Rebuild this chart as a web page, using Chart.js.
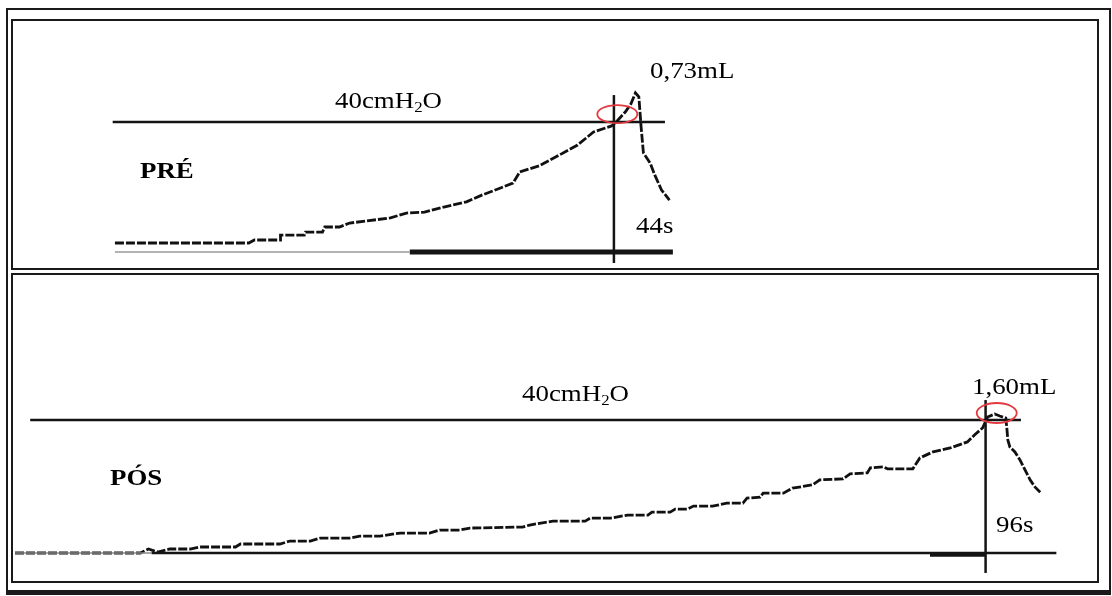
<!DOCTYPE html>
<html>
<head>
<meta charset="utf-8">
<script src="https://cdn.jsdelivr.net/npm/chart.js@4/dist/chart.umd.min.js"></script>
<style>
    html, body { margin: 0; padding: 0; background: #fff; }
    body { position: relative; width: 1112px; height: 596px; overflow: hidden; }
    .frame { position: absolute; box-sizing: border-box; border: 2px solid #1a1a1a; }
    canvas { position: absolute; }
    .lbl {
        position: absolute; font-family: "Liberation Serif", "Times New Roman", serif;
        font-size: 24px; line-height: 24px; color: #000; white-space: nowrap;
        transform: scaleX(1.12); transform-origin: left top;
    }
    .lbl b { font-weight: bold; }
    .lbl sub { font-size: 15px; vertical-align: -4px; line-height: 0; }
</style>
</head>
<body>
<div class="frame" style="left:6px;top:8px;width:1105px;height:587px;border-bottom-width:5px;"></div>
<div class="frame" style="left:11px;top:19px;width:1088px;height:251px;"></div>
<div class="frame" style="left:11px;top:273px;width:1088px;height:310px;"></div>

<canvas id="preChart" width="1084" height="246" style="left:13px;top:21px;"></canvas>
<canvas id="posChart" width="1084" height="305" style="left:13px;top:275px;"></canvas>

<div class="lbl" style="left:335px;top:88px;">40cmH<sub>2</sub>O</div>
<div class="lbl" style="left:650px;top:58px;">0,73mL</div>
<div class="lbl" style="left:140px;top:158px;"><b>PRÉ</b></div>
<div class="lbl" style="left:636px;top:213px;">44s</div>

<div class="lbl" style="left:522px;top:381px;">40cmH<sub>2</sub>O</div>
<div class="lbl" style="left:972px;top:374px;">1,60mL</div>
<div class="lbl" style="left:110px;top:465px;"><b>PÓS</b></div>
<div class="lbl" style="left:996px;top:512px;">96s</div>

<script>
// PRÉ trace: time (s) and pressure (cmH2O)
const preTime = [0, 5.4, 11.8, 12.3, 14.6, 14.6, 16.7, 16.8, 18.3, 18.5, 19.8, 20.7, 22.2, 24.3, 25.7, 27.3,
    29.0, 31.0, 32.4, 34.0, 35.1, 35.7, 37.4, 39.2, 40.8, 42.2, 43.8, 44.2, 45.0, 45.5, 45.9, 46.2,
    46.4, 46.6, 47.2, 47.6, 48.2, 48.9];
const prePressure = [0, 0, 0, 1.0, 1.0, 2.6, 2.6, 3.6, 3.6, 5.3, 5.3, 6.6, 7.3, 8.3, 9.9, 10.2,
    11.9, 13.6, 15.9, 18.2, 19.8, 23.5, 25.5, 29.1, 32.4, 36.7, 38.7, 40.0, 43.3, 46.0, 49.6, 48.3,
    38.3, 29.8, 26.4, 22.5, 17.5, 14.2];

// PÓS trace
const posTime = [0, 12.4, 13.2, 14.1, 15.3, 17.3, 18.3, 21.8, 22.3, 26.2, 27.2, 29.2, 30.2, 33.1, 34.1, 36.1,
    38.1, 41.0, 42.0, 44.0, 45.0, 50.2, 50.9, 53.2, 56.4, 56.9, 58.9, 60.6, 62.6, 63.0, 64.8, 65.3,
    66.5, 67.1, 69.0, 70.4, 72.0, 72.4, 73.7, 74.0, 76.0, 76.9, 78.9, 79.6, 81.9, 82.6, 84.3, 84.6,
    85.9, 86.3, 88.8, 89.5, 90.8, 92.5, 94.2, 94.9, 95.7, 96.2, 96.9, 97.4, 98.0, 98.1, 98.2, 98.4,
    98.9, 99.4, 99.9, 100.4, 100.9, 101.4];
const posPressure = [0, 0, 1.2, 0.3, 1.2, 1.2, 1.8, 1.8, 2.7, 2.7, 3.6, 3.6, 4.5, 4.5, 5.1, 5.1,
    6.0, 6.0, 6.9, 6.9, 7.5, 7.8, 8.4, 9.6, 9.6, 10.5, 10.5, 11.4, 11.4, 12.3, 12.3, 13.2,
    13.2, 14.1, 14.1, 15.0, 15.0, 16.5, 16.8, 18.0, 18.0, 19.5, 20.5, 22.0, 22.3, 23.8, 24.1, 25.6,
    25.9, 25.3, 25.3, 28.6, 30.4, 31.6, 33.4, 35.5, 37.6, 40.9, 41.8, 41.2, 40.6, 37.6, 34.0, 31.9,
    30.4, 28.0, 25.0, 22.0, 19.8, 18.3];

// reference lines (40 cmH2O), time markers, base bars, red rings
const preLimit = 40, preLimitSpan = [-0.2, 48.5];
const preMark = 44, preMarkSpan = [-6.6, 48.9];
const preBase = -3, preBaseSpan = [0, 26.0, 49.2];
const preRing = [44.3, 42.6];

const posLimit = 40, posLimitSpan = [1.5, 99.5];
const posMark = 96, posMarkSpan = [-6.0, 46.0];
const posBase = 0, posBaseSpan = [0, 13.5, 103.0];
const posHeavy = [90.5, 96.0];
const posRing = [97.1, 42.1];

function pts(xs, ys) {
    return xs.map((x, i) => ({ x: x, y: ys[i] }));
}

function seg(x0, x1, y) {
    return [{ x: x0, y: y }, { x: x1, y: y }];
}

function line(data, color, width, dash) {
    return {
        data: data,
        borderColor: color,
        borderWidth: width,
        borderDash: dash || [],
        pointRadius: 0,
        tension: 0,
        fill: false
    };
}

// draws the red ellipse round the crossing point
const ringPlugin = {
    id: 'ring',
    afterDatasetsDraw(chart, args, opts) {
        const ctx = chart.ctx;
        const cx = chart.scales.x.getPixelForValue(opts.at[0]);
        const cy = chart.scales.y.getPixelForValue(opts.at[1]);
        ctx.save();
        ctx.strokeStyle = '#e3393f';
        ctx.lineWidth = 1.8;
        ctx.beginPath();
        ctx.ellipse(cx, cy, opts.rx, opts.ry, 0, 0, Math.PI * 2);
        ctx.stroke();
        ctx.restore();
    }
};

function makePanel(id, datasets, xr, yr, ring) {
    return new Chart(document.getElementById(id), {
        type: 'line',
        data: { datasets: datasets },
        options: {
            responsive: false,
            animation: false,
            devicePixelRatio: 1,
            layout: { padding: 0 },
            scales: {
                x: { type: 'linear', display: false, min: xr[0], max: xr[1] },
                y: { type: 'linear', display: false, min: yr[0], max: yr[1] }
            },
            plugins: {
                legend: { display: false },
                tooltip: { enabled: false },
                ring: ring
            }
        },
        plugins: [ringPlugin]
    });
}

makePanel('preChart', [
    line(seg(preBaseSpan[0], preBaseSpan[1], preBase), '#9a9a9a', 1.5),
    line(seg(preBaseSpan[1], preBaseSpan[2], preBase), '#141414', 5),
    line(seg(preLimitSpan[0], preLimitSpan[1], preLimit), '#141414', 2.5),
    line([{ x: preMark, y: preMarkSpan[0] }, { x: preMark, y: preMarkSpan[1] }], '#141414', 2.5),
    line(pts(preTime, prePressure), '#111', 2.8, [9, 2])
], [-8.99, 86.6], [-7.93, 73.39], { at: preRing, rx: 20, ry: 9 });

makePanel('posChart', [
    line(seg(posBaseSpan[0], posBaseSpan[1], posBase), '#8a8a8a', 1.5),
    line(seg(posBaseSpan[1], posBaseSpan[2], posBase), '#141414', 2.5),
    line(seg(posHeavy[0], posHeavy[1], posBase - 0.5), '#141414', 4),
    line(seg(posLimitSpan[0], posLimitSpan[1], posLimit), '#141414', 2.5),
    line([{ x: posMark, y: posMarkSpan[0] }, { x: posMark, y: posMarkSpan[1] }], '#141414', 2.5),
    line(pts(posTime, posPressure), '#111', 2.8, [9, 2])
], [-0.2, 107.02], [-8.12, 83.61], { at: posRing, rx: 20, ry: 10 });
</script>
</body>
</html>
